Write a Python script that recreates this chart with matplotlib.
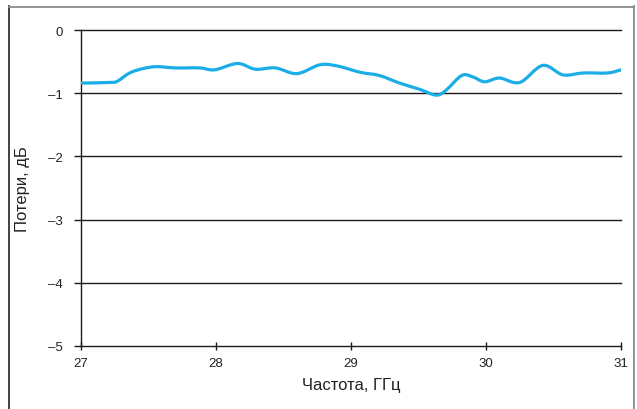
import numpy as np
import matplotlib
matplotlib.use("Agg")
import matplotlib.pyplot as plt
from matplotlib.path import Path
from matplotlib.patches import PathPatch
from matplotlib.lines import Line2D

plt.rcParams['font.family'] = ['Liberation Sans', 'DejaVu Sans']

# Measured insertion loss vs frequency
freq_ghz = [27.00, 27.215, 27.27, 27.36, 27.46, 27.56, 27.70, 27.88, 27.99, 28.16,
            28.29, 28.44, 28.60, 28.77, 28.90, 29.07, 29.21, 29.36, 29.51, 29.63,
            29.70, 29.82, 29.90, 29.99, 30.10, 30.25, 30.42, 30.57, 30.72, 30.90, 31.00]
loss_db = [-0.84, -0.83, -0.81, -0.68, -0.61, -0.58, -0.60, -0.60, -0.63, -0.53,
           -0.62, -0.60, -0.69, -0.55, -0.57, -0.67, -0.72, -0.84, -0.94, -1.03,
           -0.96, -0.72, -0.74, -0.82, -0.76, -0.83, -0.56, -0.71, -0.68, -0.68, -0.63]
x_ticks = [27, 28, 29, 30, 31]
y_ticks = [0, -1, -2, -3, -4, -5]

line_color = '#1aade6'

fig = plt.figure(figsize=(6.37, 4.10), dpi=100)
ax = fig.add_axes([81 / 637, 1 - 347 / 410, (621 - 81) / 637, (347 - 31) / 410])

# smooth curve through the points (Catmull-Rom as cubic Bezier segments)
x = np.asarray(freq_ghz)
y = np.asarray(loss_db)
verts = [(x[0], y[0])]
codes = [Path.MOVETO]
n = len(x)
for i in range(n - 1):
    p0 = np.array([x[max(i - 1, 0)], y[max(i - 1, 0)]])
    p1 = np.array([x[i], y[i]])
    p2 = np.array([x[i + 1], y[i + 1]])
    p3 = np.array([x[min(i + 2, n - 1)], y[min(i + 2, n - 1)]])
    c1 = p1 + (p2 - p0) / 6.0
    c2 = p2 - (p3 - p1) / 6.0
    verts += [tuple(c1), tuple(c2), tuple(p2)]
    codes += [Path.CURVE4] * 3
ax.add_patch(PathPatch(Path(verts, codes), facecolor='none', edgecolor=line_color,
                       lw=2.3, capstyle='round', joinstyle='round', zorder=3))

ax.set_xlim(27, 31)
ax.set_ylim(-5, 0)
ax.set_xticks(x_ticks)
ax.set_yticks(y_ticks)
ax.set_yticklabels(['0' if v == 0 else '\u2013%d' % abs(v) for v in y_ticks])

for v in y_ticks[:-1]:
    ax.axhline(v, color='#1a1a1a', lw=1.0, zorder=2, clip_on=False)

for s in ['top', 'right']:
    ax.spines[s].set_visible(False)
for s in ['left', 'bottom']:
    ax.spines[s].set_color('#1a1a1a')
    ax.spines[s].set_linewidth(1.0)

ax.tick_params(axis='x', direction='inout', length=6, width=1, color='#1a1a1a',
               labelsize=9.5, pad=5, labelcolor='#222222')
ax.tick_params(axis='y', direction='out', length=5, width=1, color='#1a1a1a',
               labelsize=9.5, pad=8, labelcolor='#222222')

ax.set_xlabel('Частота, ГГц', fontsize=12, color='#222222', labelpad=6)
ax.set_ylabel('Потери, дБ', fontsize=12, color='#222222', labelpad=13)

# frame around the figure
fig.add_artist(Line2D([8.5 / 637, 8.5 / 637], [0, 1 - 7 / 410], transform=fig.transFigure,
                      color='#333333', lw=1.3))
fig.add_artist(Line2D([8.5 / 637, 634 / 637], [1 - 7.5 / 410, 1 - 7.5 / 410],
                      transform=fig.transFigure, color='#8a8a8a', lw=1.3))
fig.add_artist(Line2D([634 / 637, 634 / 637], [0, 1 - 7 / 410], transform=fig.transFigure,
                      color='#8a8a8a', lw=1.3))

fig.savefig('out.png', dpi=100, facecolor='white')
